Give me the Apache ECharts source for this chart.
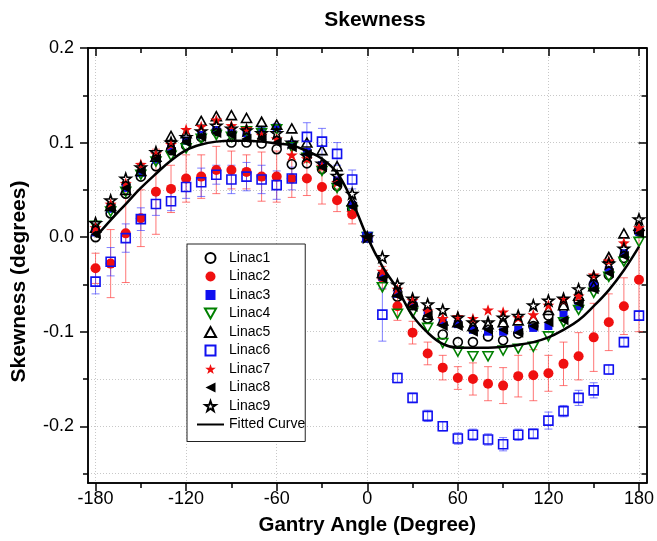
<!DOCTYPE html>
<html>
<head>
<meta charset="utf-8">
<title>Skewness</title>
<script src="https://cdn.jsdelivr.net/npm/echarts@6/dist/echarts.min.js"></script>
<style>
html, body { margin: 0; padding: 0; background: #fff; }
#chart { width: 657px; height: 541px; }
</style>
</head>
<body>
<div id="chart"></div>
<script>
// gantry angles (degree)
const angles = [-180, -170, -160, -150, -140, -130, -120, -110, -100, -90, -80, -70, -60, -50, -40, -30, -20, -10,
    0, 10, 20, 30, 40, 50, 60, 70, 80, 90, 100, 110, 120, 130, 140, 150, 160, 170, 180];

// skewness per linac
const linac1 = [0.000, 0.025, 0.046, 0.064, 0.075, 0.092, 0.097, 0.106, 0.112, 0.100, 0.100, 0.099, 0.093, 0.077, 0.078, 0.072, 0.054, 0.030,
    0.000, -0.040, -0.063, -0.072, -0.086, -0.103, -0.111, -0.111, -0.105, -0.109, -0.102, -0.094, -0.083, -0.075, -0.067, -0.050, -0.040, -0.022, 0.006];
const linac2 = [-0.033, -0.028, 0.004, 0.020, 0.048, 0.051, 0.062, 0.064, 0.071, 0.071, 0.069, 0.064, 0.064, 0.062, 0.062, 0.053, 0.039, 0.024,
    0.000, -0.043, -0.073, -0.101, -0.123, -0.138, -0.149, -0.150, -0.155, -0.157, -0.147, -0.146, -0.144, -0.134, -0.126, -0.106, -0.090, -0.073, -0.045];
const linac3 = [0.005, 0.030, 0.052, 0.068, 0.082, 0.095, 0.102, 0.108, 0.113, 0.111, 0.110, 0.112, 0.116, 0.098, 0.090, 0.076, 0.060, 0.034,
    0.000, -0.042, -0.060, -0.070, -0.080, -0.090, -0.092, -0.098, -0.100, -0.100, -0.098, -0.096, -0.094, -0.082, -0.073, -0.050, -0.035, -0.017, 0.006];
const linac4 = [0.012, 0.027, 0.048, 0.066, 0.080, 0.086, 0.094, 0.104, 0.108, 0.106, 0.112, 0.110, 0.114, 0.095, 0.084, 0.070, 0.052, 0.028,
    0.000, -0.053, -0.081, -0.080, -0.096, -0.112, -0.121, -0.126, -0.126, -0.120, -0.118, -0.116, -0.105, -0.090, -0.077, -0.059, -0.042, -0.026, -0.005];
const linac5 = [0.010, 0.033, 0.050, 0.070, 0.085, 0.107, 0.110, 0.123, 0.128, 0.129, 0.126, 0.122, 0.119, 0.115, 0.100, 0.092, 0.075, 0.038,
    0.000, -0.038, -0.058, -0.068, -0.082, -0.088, -0.090, -0.094, -0.092, -0.090, -0.088, -0.086, -0.077, -0.072, -0.062, -0.052, -0.021, 0.004, 0.012];
const linac6 = [-0.047, -0.026, -0.001, 0.019, 0.035, 0.038, 0.053, 0.058, 0.066, 0.061, 0.064, 0.061, 0.055, 0.062, 0.106, 0.101, 0.088, 0.061,
    0.000, -0.082, -0.149, -0.170, -0.189, -0.200, -0.213, -0.209, -0.214, -0.219, -0.209, -0.208, -0.194, -0.184, -0.170, -0.162, -0.140, -0.111, -0.083];
const linac7 = [0.010, 0.035, 0.057, 0.077, 0.088, 0.098, 0.114, 0.117, 0.124, 0.118, 0.115, 0.108, 0.104, 0.087, 0.083, 0.075, 0.058, 0.026,
    0.000, -0.036, -0.055, -0.067, -0.078, -0.086, -0.084, -0.086, -0.077, -0.079, -0.085, -0.082, -0.072, -0.066, -0.062, -0.040, -0.025, -0.006, 0.010];
const linac8 = [0.003, 0.030, 0.052, 0.070, 0.083, 0.090, 0.100, 0.106, 0.110, 0.108, 0.104, 0.104, 0.100, 0.095, 0.088, 0.074, 0.057, 0.032,
    0.000, -0.044, -0.062, -0.074, -0.083, -0.094, -0.094, -0.100, -0.098, -0.098, -0.101, -0.094, -0.090, -0.088, -0.070, -0.055, -0.038, -0.020, 0.004];
const linac9 = [0.015, 0.039, 0.062, 0.074, 0.090, 0.100, 0.106, 0.112, 0.118, 0.115, 0.113, 0.110, 0.110, 0.100, 0.086, 0.078, 0.065, 0.046,
    0.000, -0.021, -0.050, -0.065, -0.071, -0.077, -0.085, -0.090, -0.090, -0.085, -0.083, -0.072, -0.067, -0.065, -0.055, -0.042, -0.028, -0.012, 0.019];

// error bars (only the wide ones of linac2 and linac6 stand out)
const err2 = [0.016, 0.036, 0.052, 0.030, 0.045, 0.025, 0.025, 0.023, 0.025, 0.020, 0.018, 0.026, 0.027, 0.020, 0.018, 0.018, 0.012, 0.010,
    0.003, 0.012, 0.015, 0.012, 0.012, 0.013, 0.012, 0.017, 0.018, 0.019, 0.022, 0.027, 0.019, 0.023, 0.025, 0.036, 0.030, 0.030, 0.055];
const err6 = [0.013, 0.015, 0.015, 0.012, 0.012, 0.010, 0.012, 0.015, 0.010, 0.015, 0.015, 0.015, 0.015, 0.012, 0.015, 0.014, 0.012, 0.010,
    0.003, 0.028, 0.005, 0.005, 0.006, 0.005, 0.006, 0.006, 0.006, 0.007, 0.006, 0.005, 0.009, 0.006, 0.008, 0.008, 0.005, 0.005, 0.005];

// fitted curve, read at the same angles
const fitted = [0.000, 0.018, 0.035, 0.052, 0.067, 0.081, 0.092, 0.098, 0.101, 0.102, 0.102, 0.101, 0.099, 0.097, 0.091, 0.083, 0.068, 0.038,
    0.000, -0.031, -0.055, -0.083, -0.101, -0.113, -0.117, -0.117, -0.117, -0.116, -0.114, -0.111, -0.106, -0.098, -0.088, -0.073, -0.056, -0.035, -0.010];

const xMajor = [-180, -120, -60, 0, 60, 120, 180];
const xMinor = [-150, -90, -30, 30, 90, 150];
const yMajor = [-0.2, -0.1, 0, 0.1, 0.2];
const yMinor = [-0.25, -0.15, -0.05, 0.05, 0.15];

const FONT = 'Liberation Sans, Arial, sans-serif';
// path symbols keep their aspect (and direction) in the legend too
const STAR = 'path://M0,-10L2.35,-3.24L9.51,-3.09L3.8,1.24L5.88,8.09L0,4L-5.88,8.09L-3.8,1.24L-9.51,-3.09L-2.35,-3.24Z';
const SQUARE = 'path://M0,0L10,0L10,10L0,10Z';
const TRI_UP = 'path://M5,0L10,9L0,9Z';
const TRI_DOWN = 'path://M0,0L10,0L5,9Z';
const TRI_LEFT = 'path://M10,0L10,10L0,5Z';
const NONE = 'rgba(0,0,0,0)';

function pts(vals) {
    return angles.map((a, i) => [a, vals[i]]);
}

function scatter(name, vals, symbol, size, fill, stroke) {
    return {
        name: name,
        type: 'scatter',
        data: pts(vals),
        symbol: symbol,
        symbolSize: size,
        symbolKeepAspect: true,
        itemStyle: { color: fill, borderColor: stroke || fill, borderWidth: stroke ? 1.6 : 0, opacity: 1 },
        z: 3
    };
}

function errorBars(name, vals, errs, color) {
    return {
        name: name,
        type: 'custom',
        data: angles.map((a, i) => [a, vals[i] - errs[i], vals[i] + errs[i]]),
        encode: { x: 0, y: [1, 2] },
        z: 2,
        renderItem: function (params, api) {
            const lo = api.coord([api.value(0), api.value(1)]);
            const hi = api.coord([api.value(0), api.value(2)]);
            const w = 4;
            const st = { stroke: color, lineWidth: 1 };
            return {
                type: 'group',
                children: [
                    { type: 'line', shape: { x1: lo[0], y1: lo[1], x2: hi[0], y2: hi[1] }, style: st },
                    { type: 'line', shape: { x1: lo[0] - w, y1: lo[1], x2: lo[0] + w, y2: lo[1] }, style: st },
                    { type: 'line', shape: { x1: hi[0] - w, y1: hi[1], x2: hi[0] + w, y2: hi[1] }, style: st }
                ]
            };
        }
    };
}

function xAx(pos, ticks, len, inside, withLabel, split) {
    return {
        type: 'value', position: pos, min: -185, max: 185,
        axisLine: { show: true, onZero: false, lineStyle: { color: '#000', width: 1.5 } },
        axisTick: { show: true, inside: inside, length: len, customValues: ticks, lineStyle: { color: '#000', width: 1.5 } },
        axisLabel: withLabel ? { show: true, customValues: ticks, margin: 7, fontFamily: FONT, fontSize: 18, color: '#000' } : { show: false },
        splitLine: { show: split, lineStyle: { color: '#c8c8c8', type: [1, 2], width: 1 } }
    };
}

function yAx(pos, ticks, len, inside, withLabel, split) {
    return {
        type: 'value', position: pos, min: -0.26, max: 0.2,
        axisLine: { show: true, onZero: false, lineStyle: { color: '#000', width: 1.5 } },
        axisTick: { show: true, inside: inside, length: len, customValues: ticks, lineStyle: { color: '#000', width: 1.5 } },
        axisLabel: withLabel ? {
            show: true, customValues: ticks, margin: 14, fontFamily: FONT, fontSize: 18, color: '#000',
            formatter: v => v.toFixed(1)
        } : { show: false },
        splitLine: { show: split, lineStyle: { color: '#c8c8c8', type: [1, 2], width: 1 } }
    };
}

const chart = echarts.init(document.getElementById('chart'));

const xMain = xAx('bottom', xMajor, 8, false, true, true);
xMain.name = 'Gantry Angle (Degree)';
xMain.nameLocation = 'middle';
xMain.nameGap = 32;
xMain.nameTextStyle = { fontFamily: FONT, fontSize: 20.5, fontWeight: 'bold', color: '#000' };

const yMain = yAx('left', yMajor, 8, false, true, true);
yMain.name = 'Skewness (degrees)';
yMain.nameLocation = 'middle';
yMain.nameGap = 58;
// pushed a little below the centre of the axis, as in the original
yMain.nameTextStyle = { fontFamily: FONT, fontSize: 21, fontWeight: 'bold', color: '#000', padding: [0, 32, 0, 0] };

chart.setOption({
    animation: false,
    backgroundColor: '#fff',
    title: {
        text: 'Skewness',
        left: 370, top: 5, textAlign: 'center',
        textStyle: { fontFamily: FONT, fontSize: 21, fontWeight: 'bold', color: '#000' }
    },
    grid: { left: 88, right: 9, top: 48, bottom: 58 },
    xAxis: [
        xMain,
        xAx('bottom', xMinor, 5, false, false, false),
        xAx('top', xMajor, 8, true, false, false),
        xAx('top', xMinor, 5, true, false, false)
    ],
    yAxis: [
        yMain,
        yAx('left', yMinor, 5, false, false, true),
        yAx('right', yMajor, 8, true, false, false),
        yAx('right', yMinor, 5, true, false, false)
    ],
    legend: {
        orient: 'vertical',
        left: 187, top: 244,
        padding: [7, 0, 10, 9],
        itemWidth: 27, itemHeight: 10, itemGap: 4.5,
        symbolKeepAspect: true,
        backgroundColor: '#fff',
        borderColor: '#222', borderWidth: 1,
        textStyle: { fontFamily: FONT, fontSize: 14, color: '#000' },
        data: ['Linac1', 'Linac2', 'Linac3', 'Linac4', 'Linac5', 'Linac6', 'Linac7', 'Linac8', 'Linac9', 'Fitted Curve']
    },
    series: [
        errorBars('err2', linac2, err2, 'rgba(255,60,60,0.7)'),
        errorBars('err6', linac6, err6, 'rgba(60,60,255,0.65)'),
        scatter('Linac1', linac1, 'circle', 9, NONE, '#000'),
        scatter('Linac2', linac2, 'circle', 10, '#f01010'),
        scatter('Linac3', linac3, SQUARE, 8, '#1010f0'),
        scatter('Linac4', linac4, TRI_DOWN, 10, NONE, '#008000'),
        scatter('Linac5', linac5, TRI_UP, 10, NONE, '#000'),
        scatter('Linac6', linac6, SQUARE, 9, NONE, '#1010f0'),
        scatter('Linac7', linac7, STAR, 12, '#f01010'),
        scatter('Linac8', linac8, TRI_LEFT, 10, '#000'),
        scatter('Linac9', linac9, STAR, 11, NONE, '#000'),
        {
            name: 'Fitted Curve',
            type: 'line',
            data: pts(fitted),
            smooth: 0.4,
            symbol: 'none',
            lineStyle: { color: '#000', width: 2.5 },
            // transparent item colour keeps the legend icon a plain line
            itemStyle: { color: NONE, borderWidth: 0 },
            z: 4
        }
    ]
});
</script>
</body>
</html>
